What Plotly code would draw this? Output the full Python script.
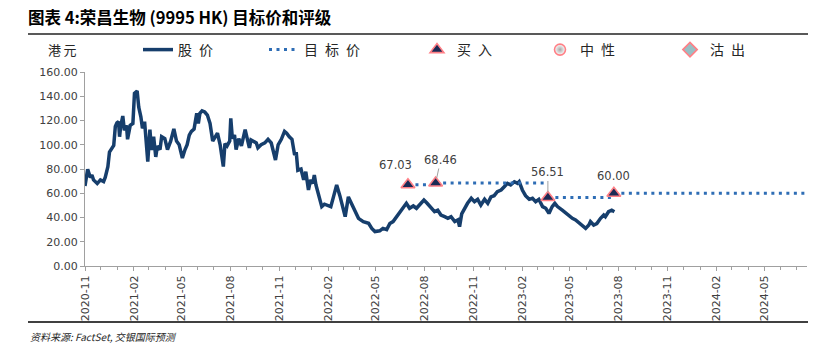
import plotly.graph_objects as go

# ---------------- data ----------------
price_dates = [
    "2020-11-01","2020-11-03","2020-11-06","2020-11-11","2020-11-14","2020-11-17","2020-11-24","2020-11-30",
    "2020-12-06","2020-12-09","2020-12-14","2020-12-17","2020-12-22","2020-12-25","2020-12-28","2020-12-31",
    "2021-01-03","2021-01-05","2021-01-07","2021-01-11","2021-01-14","2021-01-18","2021-01-20","2021-01-25",
    "2021-01-30","2021-02-02","2021-02-07","2021-02-10","2021-02-14","2021-02-17","2021-02-21","2021-02-24",
    "2021-02-27","2021-03-03","2021-03-06","2021-03-10","2021-03-14","2021-03-17","2021-03-22","2021-03-25",
    "2021-03-31","2021-04-05","2021-04-11","2021-04-17","2021-04-22","2021-04-27","2021-05-03","2021-05-08",
    "2021-05-12","2021-05-16","2021-05-20","2021-05-25","2021-05-30","2021-06-02","2021-06-05","2021-06-09",
    "2021-06-14","2021-06-19","2021-06-24","2021-06-29","2021-07-03","2021-07-08","2021-07-13","2021-07-19",
    "2021-07-22","2021-07-26","2021-07-31","2021-08-02","2021-08-05","2021-08-09","2021-08-12","2021-08-17",
    "2021-08-22","2021-08-29","2021-09-03","2021-09-06","2021-09-09","2021-09-19","2021-09-22","2021-09-28",
    "2021-10-05","2021-10-11","2021-10-17","2021-10-20","2021-10-25","2021-10-30","2021-11-05","2021-11-11",
    "2021-11-15","2021-11-20","2021-11-25","2021-11-30","2021-12-03","2021-12-06","2021-12-12","2021-12-17",
    "2021-12-21","2021-12-26","2021-12-30","2022-01-03","2022-01-06","2022-01-09","2022-01-15","2022-01-20",
    "2022-01-25","2022-01-31","2022-02-06","2022-02-11","2022-02-17","2022-02-23","2022-03-02","2022-03-05",
    "2022-03-11","2022-03-17","2022-03-24","2022-03-30","2022-04-08","2022-04-18","2022-04-24","2022-04-30",
    "2022-05-09","2022-05-15","2022-05-22","2022-05-28","2022-06-03","2022-06-12","2022-06-22","2022-06-28",
    "2022-07-04","2022-07-11","2022-07-17","2022-07-23","2022-07-31","2022-08-06","2022-08-14","2022-08-20",
    "2022-08-26","2022-09-01","2022-09-08","2022-09-14","2022-09-20","2022-09-27","2022-10-03","2022-10-06",
    "2022-10-10","2022-10-15","2022-10-21","2022-10-28","2022-11-03","2022-11-09","2022-11-15","2022-11-22",
    "2022-11-28","2022-12-04","2022-12-10","2022-12-16","2022-12-23","2022-12-29","2023-01-04","2023-01-10",
    "2023-01-17","2023-01-23","2023-01-26","2023-02-01","2023-02-07","2023-02-14","2023-02-20","2023-02-26",
    "2023-03-04","2023-03-11","2023-03-17","2023-03-23","2023-03-29","2023-04-03","2023-04-08","2023-04-17",
    "2023-04-27","2023-05-06","2023-05-12","2023-05-22","2023-05-31","2023-06-06","2023-06-09","2023-06-15",
    "2023-06-21","2023-06-28","2023-07-04","2023-07-07","2023-07-13","2023-07-19","2023-07-24",
]
price_values = [
    66, 71, 79.7, 73, 75, 71, 68, 71,
    69.7, 73, 82, 94, 97, 99.5, 115, 118,
    119, 106.6, 115, 123.7, 112, 116, 104.5, 116,
    117.5, 142.4, 144.3, 131, 123, 113.5, 119, 105,
    86, 112.5, 95.7, 106.6, 90, 99, 96, 106.6,
    105, 96, 103, 113, 103, 100, 89, 96,
    100, 108, 111, 113, 126, 117.6, 126, 128,
    127, 124.5, 117.6, 103, 106.6, 109.5, 100, 82,
    101, 99, 103, 121.8, 105, 108, 96, 105,
    99, 112.5, 103, 97.5, 104, 101.5, 97.5, 100,
    101.5, 104.5, 101.5, 96, 87.4, 100, 104.5, 111,
    109.5, 106.6, 104.5, 91.5, 94, 79, 80, 71,
    77.8, 62.7, 71, 68, 75, 67, 55.8, 49,
    51, 50, 49, 57, 66.8, 58, 47.6, 40.7,
    57, 51.7, 46, 39.3, 36.6, 35.2, 31, 28.4,
    29, 31, 30, 35, 36.6, 42, 49, 51.7,
    47.6, 49.5, 47.6, 50.3, 54.4, 51.7, 47.6, 44.8,
    46, 42, 40.7, 39.3, 40.7, 36.6, 38, 32.4,
    43, 47.6, 51.7, 55.8, 53, 55, 50.3, 55,
    51.7, 57, 58, 61.3, 62.7, 65.4, 68.2, 66.8,
    69.5, 68.2, 69.5, 62.7, 58, 55, 55.8, 53,
    55, 49, 47.6, 43.4, 49, 51.7, 49, 46,
    42, 39.3, 38, 33.8, 31, 33.8, 36.6, 33.8,
    35, 39.3, 42, 40.7, 44.8, 46, 44.8,
]

rating_dates = ["2022-07-01", "2022-08-22", "2023-03-21", "2023-07-23"]
target_prices = [67.03, 68.46, 56.51, 60.00]
target_labels = ["67.03", "68.46", "56.51", "60.00"]
axis_start = "2020-11-01"
axis_end = "2024-07-20"

# target price segments (each held until the next rating)
seg_x, seg_y = [], []
for i, (d, p) in enumerate(zip(rating_dates, target_prices)):
    nxt = rating_dates[i + 1] if i + 1 < len(rating_dates) else axis_end
    seg_x += [d, nxt, None]
    seg_y += [p, p, None]

NAVY = "#163E6C"
DOT = "#2E6DB5"
PINK = "#FF7F86"
FONT = "DejaVu Sans"
CJK = "Noto Sans CJK SC"

fig = go.Figure()
fig.add_trace(go.Scatter(x=price_dates, y=price_values, mode="lines", name="股\u2002价",
                         line=dict(color=NAVY, width=3.5), legend="legend", showlegend=True))
fig.add_trace(go.Scatter(x=seg_x, y=seg_y, mode="lines", name="目\u2002标\u2002价",
                         line=dict(color=DOT, width=3, dash="3px,4.5px"), legend="legend2"))
fig.add_trace(go.Scatter(x=rating_dates, y=target_prices, mode="markers", name="买\u2002入",
                         marker=dict(symbol="triangle-up", size=12, color="#1B2A55",
                                     line=dict(color=PINK, width=1.6)), legend="legend3"))
fig.add_trace(go.Scatter(x=[None], y=[None], mode="markers", name="中\u2002性",
                         marker=dict(symbol="circle", size=11, color="#FFFFFF",
                                     gradient=dict(type="radial", color="#A8A8A8"),
                                     line=dict(color=PINK, width=1.6)), legend="legend4"))
fig.add_trace(go.Scatter(x=[None], y=[None], mode="markers", name="沽\u2002出",
                         marker=dict(symbol="diamond", size=11, color="#98BFC4",
                                     line=dict(color=PINK, width=1.6)), legend="legend5"))

# target labels
offsets = [(-12, 20, False), (5, -23, True), (0, -25, True), (0, 17, False)]
for d, p, lab, (dx, dy, arrow) in zip(rating_dates, target_prices, target_labels, offsets):
    if arrow:
        fig.add_annotation(x=d, y=p, text=lab, showarrow=True, arrowhead=0, arrowwidth=1,
                           arrowcolor="#A0A0A0", ax=dx, ay=dy, standoff=5,
                           font=dict(family=FONT, size=11.5, color="#404040"))
    else:
        fig.add_annotation(x=d, y=p, text=lab, showarrow=False, xshift=dx, yshift=dy,
                           font=dict(family=FONT, size=11.5, color="#404040"))

leg_common = dict(orientation="h", xref="container", yref="container", yanchor="middle",
                  y=1 - 50 / 352, xanchor="left", bgcolor="rgba(0,0,0,0)",
                  font=dict(family=CJK, size=14, color="#262626"))
legend_x = [138, 264, 417, 540, 670]

fig.update_layout(
    width=830, height=352,
    showlegend=True,
    margin=dict(l=85, r=23, t=72, b=86, autoexpand=False),
    plot_bgcolor="white", paper_bgcolor="white",
    title=dict(text="<b>图表 4:荣昌生物 (9995 HK) 目标价和评级</b>", x=28 / 830, xanchor="left",
               y=1 - 18 / 352, yanchor="middle", xref="container", yref="container",
               font=dict(family=CJK, size=16.5, color="#000000")),
    legend=dict(x=legend_x[0] / 830, **leg_common),
    legend2=dict(x=legend_x[1] / 830, **leg_common),
    legend3=dict(x=legend_x[2] / 830, **leg_common),
    legend4=dict(x=legend_x[3] / 830, **leg_common),
    legend5=dict(x=legend_x[4] / 830, **leg_common),
    xaxis=dict(type="date", range=[axis_start, axis_end], tick0=axis_start, dtick="M3",
               tickformat="%Y-%m", tickangle=-90, ticks="outside", ticklen=4, tickcolor="#A0A0A0",
               showline=True, linecolor="#A0A0A0", linewidth=1, showgrid=False, zeroline=False,
               minor=dict(dtick="M1", tick0=axis_start, ticks="outside", ticklen=3, tickcolor="#A0A0A0"),
               tickfont=dict(family=FONT, size=11, color="#404040")),
    yaxis=dict(range=[0, 160], dtick=20, tickformat=".2f", ticks="outside", ticklen=4,
               tickcolor="#A0A0A0", showline=True, linecolor="#A0A0A0", linewidth=1,
               showgrid=False, zeroline=False,
               tickfont=dict(family=FONT, size=11, color="#404040")),
)

# y-axis unit, frame lines and source
fig.add_annotation(xref="paper", yref="paper", x=(62 - 85) / 722, y=(266 - 50) / 194,
                   text="港\u2009元", showarrow=False, xanchor="center", yanchor="middle",
                   font=dict(family=CJK, size=13, color="#262626"))
fig.add_annotation(xref="paper", yref="paper", x=(28 - 85) / 722, y=(266 - 336) / 194,
                   text="<i>资料来源: FactSet, 交银国际预测</i>", showarrow=False, xanchor="left",
                   yanchor="middle", font=dict(family=CJK, size=10, color="#262626"))
fig.add_shape(type="line", xref="paper", yref="paper", x0=(28 - 85) / 722, x1=(808 - 85) / 722,
              y0=(266 - 34) / 194, y1=(266 - 34) / 194, line=dict(color="#595959", width=2))
fig.add_shape(type="line", xref="paper", yref="paper", x0=(28 - 85) / 722, x1=(808 - 85) / 722,
              y0=(266 - 322) / 194, y1=(266 - 322) / 194, line=dict(color="#404040", width=2))

fig.write_html("out.html")
